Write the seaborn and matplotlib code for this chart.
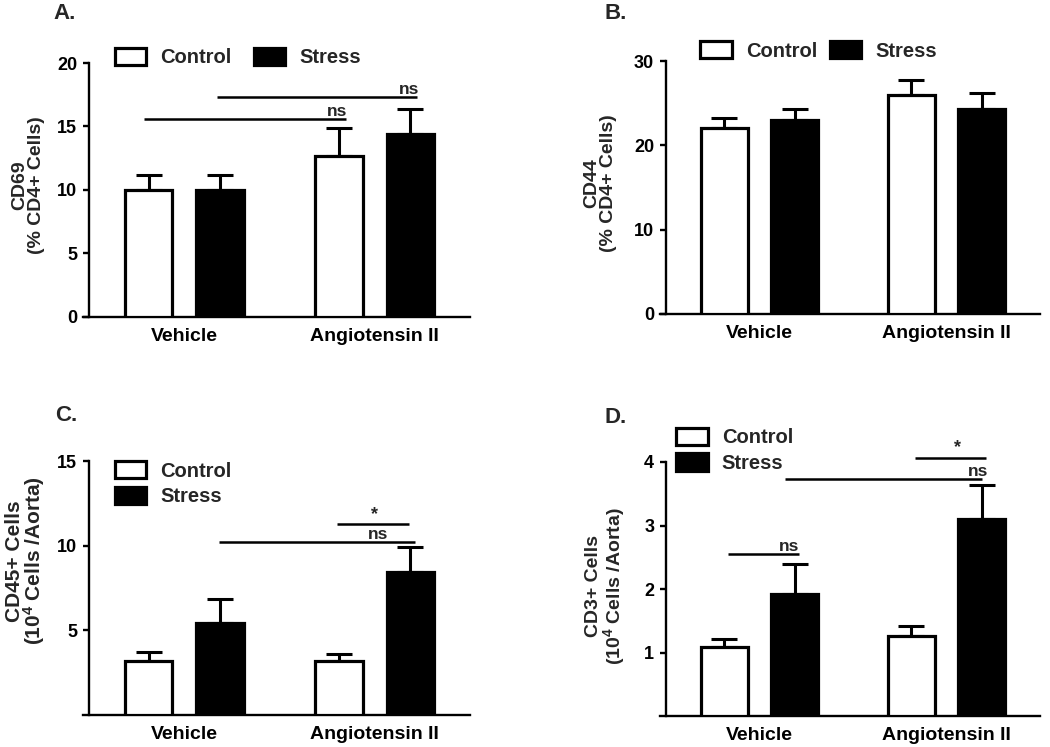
import matplotlib
matplotlib.use("Agg")
import matplotlib.pyplot as plt
import seaborn as sns
import numpy as np
import pandas as pd
from matplotlib.patches import Patch

sns.set_style("white")
plt.rcParams['font.family'] = ['Liberation Sans', 'DejaVu Sans']
plt.rcParams['font.weight'] = 'bold'
plt.rcParams['mathtext.fontset'] = 'custom'
plt.rcParams['mathtext.rm'] = 'Liberation Sans:bold'
plt.rcParams['mathtext.bf'] = 'Liberation Sans:bold'
plt.rcParams['mathtext.it'] = 'Liberation Sans:bold'

# ---------------- data ----------------
groups = ["Vehicle", "Angiotensin II"]
conditions = ["Control", "Stress"]

cd69_control = [10.0, 12.7]
cd69_stress = [10.0, 14.4]
cd69_control_err = [1.2, 2.2]
cd69_stress_err = [1.2, 2.0]

cd44_control = [22.0, 26.0]
cd44_stress = [23.0, 24.3]
cd44_control_err = [1.2, 1.8]
cd44_stress_err = [1.3, 1.9]

cd45_control = [3.2, 3.2]
cd45_stress = [5.45, 8.45]
cd45_control_err = [0.55, 0.4]
cd45_stress_err = [1.4, 1.45]

cd3_control = [1.09, 1.26]
cd3_stress = [1.92, 3.10]
cd3_control_err = [0.13, 0.16]
cd3_stress_err = [0.47, 0.53]

panel_labels = ["A.", "B.", "C.", "D."]
ylabels = ["CD69\n(% CD4+ Cells)",
           "CD44\n(% CD4+ Cells)",
           "CD45+ Cells\n(10$^{4}$ Cells /Aorta)",
           "CD3+ Cells\n(10$^{4}$ Cells /Aorta)"]

# significance brackets: (x_start, x_end, y, text, text_x)
sig_A = [(-0.21, 0.85, 15.6, "ns", 0.80), (0.17, 1.22, 17.3, "ns", 1.18)]
sig_B = []
sig_C = [(0.18, 1.21, 10.24, "ns", 1.02), (0.80, 1.18, 11.27, "*", 1.0)]
sig_D = [(-0.17, 0.21, 2.55, "ns", 0.16), (0.135, 1.19, 3.74, "ns", 1.17),
         (0.83, 1.21, 4.07, "*", 1.06)]

W, H = 1050, 747
fig = plt.figure(figsize=(W / 100, H / 100), dpi=100)


def box(l, r, t, b):
    return [l / W, 1 - b / H, (r - l) / W, (b - t) / H]


panels = [
    dict(rect=box(89, 470, 63, 317), c=cd69_control, s=cd69_stress,
         ce=cd69_control_err, se=cd69_stress_err, ylim=(0, 20),
         yticks=[0, 5, 10, 15, 20], sig=sig_A, ylab_pos=(-0.115, 0.52),
         ylab_size=14, ylab_ls=1.0,
         leg=dict(loc="center left", bbox_to_anchor=(0.068, 1.022), ncol=2,
                  columnspacing=1.1),
         label_xy=(53, 3)),
    dict(rect=box(666, 1040, 61, 314), c=cd44_control, s=cd44_stress,
         ce=cd44_control_err, se=cd44_stress_err, ylim=(0, 30),
         yticks=[0, 10, 20, 30], sig=sig_B, ylab_pos=(-0.13, 0.517),
         ylab_size=14, ylab_ls=1.0,
         leg=dict(loc="center left", bbox_to_anchor=(0.092, 1.04), ncol=2,
                  columnspacing=0.65),
         label_xy=(605, 3)),
    dict(rect=box(89, 470, 461, 715), c=cd45_control, s=cd45_stress,
         ce=cd45_control_err, se=cd45_stress_err, ylim=(0, 15),
         yticks=[5, 10, 15], sig=sig_C, ylab_pos=(-0.11, 0.606),
         ylab_size=15, ylab_ls=0.85,
         leg=dict(loc="upper left", bbox_to_anchor=(0.068, 1.0), ncol=1,
                  labelspacing=0.3),
         label_xy=(55, 405)),
    dict(rect=box(666, 1040, 462, 716), c=cd3_control, s=cd3_stress,
         ce=cd3_control_err, se=cd3_stress_err, ylim=(0, 4),
         yticks=[1, 2, 3, 4], sig=sig_D, ylab_pos=(-0.103, 0.51),
         ylab_size=14, ylab_ls=1.0,
         leg=dict(loc="upper left", bbox_to_anchor=(0.028, 1.135), ncol=1,
                  labelspacing=0.3),
         label_xy=(605, 407)),
]

for p, plab, ylab in zip(panels, panel_labels, ylabels):
    ax = fig.add_axes(p["rect"])
    df = pd.DataFrame({
        "group": groups * 2,
        "condition": ["Control"] * 2 + ["Stress"] * 2,
        "value": list(p["c"]) + list(p["s"]),
    })
    sns.barplot(data=df, x="group", y="value", hue="condition",
                order=groups, hue_order=conditions,
                palette={"Control": "white", "Stress": "black"},
                edgecolor="black", linewidth=2.3, width=0.75, gap=0.33,
                errorbar=None, legend=False, ax=ax, zorder=3)
    errs = [p["ce"], p["se"]]
    for cont, e in zip(ax.containers, errs):
        xs = [r.get_x() + r.get_width() / 2 for r in cont.patches]
        ys = [r.get_height() for r in cont.patches]
        ax.errorbar(xs, ys, yerr=[np.zeros(len(e)), e], fmt="none",
                    ecolor="black", elinewidth=2.2, capsize=9.5,
                    capthick=2.2, zorder=2)
    ax.set_xlim(-0.5, 1.5)
    ax.set_ylim(*p["ylim"])
    ax.set_yticks(p["yticks"])
    ax.set_xlabel("")
    ax.set_ylabel(ylab, fontsize=p["ylab_size"], fontweight="bold",
                  linespacing=p["ylab_ls"])
    ax.yaxis.set_label_coords(*p["ylab_pos"])
    sns.despine(ax=ax)
    for sp in ("left", "bottom"):
        ax.spines[sp].set_linewidth(1.7)
        ax.spines[sp].set_color("black")
    ax.spines["bottom"].set_bounds(-0.532, 1.5)
    ax.tick_params(axis="y", length=4.5, width=1.7, pad=4, labelsize=13,
                   colors="black", direction="out", left=True)
    ax.tick_params(axis="x", length=0, pad=8, labelsize=14, colors="black")
    for t in ax.get_xticklabels() + ax.get_yticklabels():
        t.set_fontweight("bold")

    for (x0, x1, y, txt, tx) in p["sig"]:
        ax.plot([x0, x1], [y, y], color="black", lw=1.8, clip_on=False,
                solid_capstyle="butt")
        off = 0.0 if txt == "ns" else 0.8
        fs = 12.5 if txt == "ns" else 13
        ax.annotate(txt, (tx, y), xytext=(0, off), textcoords="offset points",
                    ha="center", va="bottom", fontsize=fs, fontweight="bold",
                    annotation_clip=False)

    handles = [Patch(facecolor="white", edgecolor="black", linewidth=2.3),
               Patch(facecolor="black", edgecolor="black", linewidth=2.3)]
    ax.legend(handles, conditions, frameon=False,
              prop={"weight": "bold", "size": 14.5},
              handlelength=1.55, handleheight=0.95, handletextpad=0.7,
              borderpad=0, borderaxespad=0, **p["leg"])

    fig.text(p["label_xy"][0] / W, 1 - p["label_xy"][1] / H, plab,
             fontsize=16, fontweight="bold", ha="left", va="top")

fig.savefig("out.png", dpi=100)
